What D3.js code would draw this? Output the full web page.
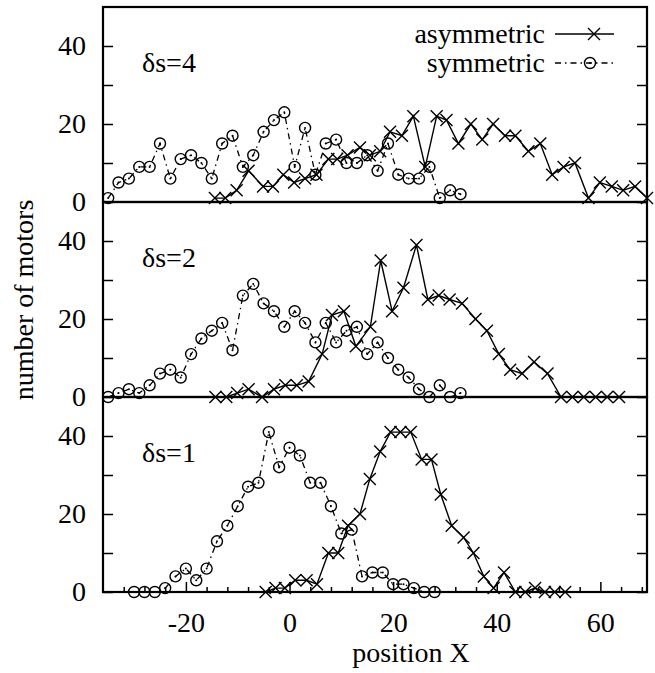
<!DOCTYPE html>
<html>
<head>
<meta charset="utf-8">
<script src="https://cdn.jsdelivr.net/npm/d3@7"></script>
<style>
  body { margin: 0; background: #fff; }
  svg text { font-family: "Liberation Serif", "DejaVu Serif", serif; fill: #000; }
</style>
</head>
<body>
<div id="chart"></div>
<script>
// axis ticks and names
let xTicks = [-20, 0, 20, 40, 60]
let yTicks = [0, 10, 20, 30, 40]
let yLabels = [0, 20, 40]
let panelNames = ['δs=4', 'δs=2', 'δs=1']
let seriesNames = ['asymmetric', 'symmetric']

// δs=4
let asymX4 = [-14.4, -12.4, -10.2, -7.9, -5.1, -3.2, -1.2, 0.9, 3.0, 5.2, 7.5, 9.2, 11.2, 13.6, 15.5, 17.5, 19.4, 21.7, 23.9, 26.2, 28.4, 30.3, 32.6, 35.0, 37.2, 39.3, 41.6, 43.6, 46.1, 48.4, 50.7, 52.9, 55.1, 57.7, 59.9, 62.2, 64.4, 66.7, 69.0]
let asymY4 = [1, 1, 3, 8, 4, 4, 7, 5, 6, 7, 11, 11, 12, 14, 12, 13, 18, 17, 22, 9, 22, 21, 15, 20, 16, 20, 17, 17, 13, 15, 7, 9, 10, 1, 5, 4, 3, 4, 1]
let symX4 = [-35, -33, -31, -29, -27, -25, -23, -21, -19, -17, -15, -13, -11, -9, -7, -5, -3, -1, 1, 3, 5, 7, 9, 11, 13, 15, 17, 19, 21, 23, 25, 27, 29, 31, 33]
let symY4 = [1, 5, 6, 9, 9, 15, 6, 11, 12, 10, 6, 15, 17, 9, 12, 18, 21, 23, 9, 19, 7, 15, 16, 10, 10, 12, 8, 15, 7, 6, 6, 9, 1, 3, 2]

// δs=2
let asymX2 = [-14.3, -12.2, -10.1, -7.9, -5.3, -3.0, -0.8, 1.4, 3.7, 6.3, 8.2, 10.5, 12.8, 15.6, 17.6, 19.8, 22.0, 24.5, 26.7, 28.8, 30.9, 33.3, 35.9, 38.1, 40.4, 42.6, 44.9, 47.2, 49.8, 52.4, 54.6, 56.8, 59.1, 61.3, 63.6]
let asymY2 = [0, 0, 1, 2, 0, 2, 3, 3, 4, 11, 21, 22, 13, 18, 35, 22, 28, 39, 25, 26, 25, 24, 20, 17, 11, 7, 6, 9, 6, 0, 0, 0, 0, 0, 0]
let symX2 = [-35, -33, -31, -29, -27, -25, -23, -21, -19, -17, -15, -13, -11, -9, -7, -5, -3, -1, 1, 3, 5, 7, 9, 11, 13, 15, 17, 19, 21, 23, 25, 27, 29, 31, 33]
let symY2 = [0, 1, 2, 1, 3, 6, 7, 5, 11, 15, 17, 19, 12, 26, 29, 24, 22, 18, 22, 19, 14, 19, 14, 17, 18, 11, 14, 10, 7, 5, 2, 0, 3, 0, 1]

// δs=1
let asymX1 = [-4.6, -2.7, -0.9, 1.1, 3.3, 5.3, 7.5, 9.4, 11.3, 13.6, 15.5, 17.5, 19.5, 21.4, 23.4, 25.5, 27.4, 29.2, 31.3, 33.6, 35.5, 37.5, 39.4, 41.4, 43.6, 45.5, 47.4, 49.3, 51.2, 53.2]
let asymY1 = [0, 1, 1, 3, 3, 2, 10, 10, 17, 20, 29, 36, 41, 41, 41, 34, 34, 25, 17, 14, 10, 4, 1, 5, 0, 0, 1, 0, 0, 0]
let symX1 = [-30, -28, -26, -24, -22, -20, -18, -16, -14, -12, -10, -8, -6, -4, -2, 0, 2, 4, 6, 8, 10, 12, 14, 16, 18, 20, 22, 24, 26, 28]
let symY1 = [0, 0, 0, 1, 4, 6, 3, 6, 13, 17, 22, 27, 28, 41, 32, 37, 35, 28, 28, 22, 15, 16, 4, 5, 5, 2, 2, 1, 0, 0]

let panels = [
  {name: panelNames[0], asym: d3.zip(asymX4, asymY4), sym: d3.zip(symX4, symY4)},
  {name: panelNames[1], asym: d3.zip(asymX2, asymY2), sym: d3.zip(symX2, symY2)},
  {name: panelNames[2], asym: d3.zip(asymX1, asymY1), sym: d3.zip(symX1, symY1)}
]

let crossPath = 'M-6,-6L6,6M-6,6L6,-6'
let dashDot = '6,4,1.5,4'

function drawCross(g, px, py){
  g.append('path').attr('d', crossPath)
    .attr('transform', `translate(${px},${py})`)
    .attr('fill', 'none').attr('stroke', '#000').attr('stroke-width', 1.4)
}

function drawCircle(g, px, py){
  g.append('circle').attr('cx', px).attr('cy', py).attr('r', 5.5)
    .attr('fill', 'none').attr('stroke', '#000').attr('stroke-width', 1.4)
  g.append('circle').attr('cx', px).attr('cy', py).attr('r', 1).attr('fill', '#000')
}

function styleAxis(a){
  a.select('.domain').remove()
  a.selectAll('line').attr('stroke', '#000').attr('stroke-width', 1.5)
  a.selectAll('text').attr('font-size', 28).attr('font-family', '"Liberation Serif", serif')
}

function makeChart(){
  let width = 655, height = 673
  let left = 103, right = 647, top = 7, panelH = 195

  let svg = d3.select('#chart').append('svg')
    .attr('width', width).attr('height', height)

  let x = d3.scaleLinear().domain([-36, 69]).range([left, right])

  panels.forEach((p, i) => {
    let y0 = top + i * panelH
    let y = d3.scaleLinear().domain([0, 50]).range([y0 + panelH, y0])
    let g = svg.append('g')

    // left and right axes, ticks pointing inward
    g.append('g').attr('transform', `translate(${left},0)`)
      .call(d3.axisLeft(y).tickValues(yTicks).tickSizeInner(-10).tickSizeOuter(0).tickPadding(17)
        .tickFormat(d => yLabels.includes(d) ? String(d) : ''))
      .call(styleAxis)
    g.append('g').attr('transform', `translate(${right},0)`)
      .call(d3.axisRight(y).tickValues(yTicks).tickSizeInner(-10).tickSizeOuter(0).tickFormat(''))
      .call(styleAxis)

    // symmetric: dash-dot with open circles
    g.append('path').datum(p.sym)
      .attr('d', d3.line().x(d => x(d[0])).y(d => y(d[1])))
      .attr('fill', 'none').attr('stroke', '#000').attr('stroke-width', 1.3)
      .attr('stroke-dasharray', dashDot)
    p.sym.forEach(d => drawCircle(g, x(d[0]), y(d[1])))

    // asymmetric: solid with crosses
    g.append('path').datum(p.asym)
      .attr('d', d3.line().x(d => x(d[0])).y(d => y(d[1])))
      .attr('fill', 'none').attr('stroke', '#000').attr('stroke-width', 1.4)
    p.asym.forEach(d => drawCross(g, x(d[0]), y(d[1])))

    // frame
    g.append('rect').attr('x', left).attr('y', y0)
      .attr('width', right - left).attr('height', panelH)
      .attr('fill', 'none').attr('stroke', '#000').attr('stroke-width', 2.2)

    g.append('text').attr('x', 142).attr('y', y0 + 65)
      .attr('font-size', 28).text(p.name)

    if (i == panels.length - 1){
      let base = y0 + panelH
      // plain hyphen for negatives, like the original
      svg.append('g').attr('transform', `translate(0,${base})`)
        .call(d3.axisBottom(x).tickValues(xTicks).tickSizeInner(-10).tickSizeOuter(0).tickPadding(20)
          .tickFormat(d => String(d)))
        .call(styleAxis)
      svg.append('g').attr('transform', `translate(0,${base})`)
        .call(d3.axisBottom(x).tickValues(d3.range(-32, 69, 4).filter(v => !xTicks.includes(v)))
          .tickSizeInner(-5).tickSizeOuter(0).tickFormat(''))
        .call(styleAxis)
    }
  })

  // legend
  let lg = svg.append('g')
  lg.append('text').attr('x', 545).attr('y', 43).attr('text-anchor', 'end')
    .attr('font-size', 28).text(seriesNames[0])
  lg.append('line').attr('x1', 555).attr('x2', 614).attr('y1', 34).attr('y2', 34)
    .attr('stroke', '#000').attr('stroke-width', 1.4)
  drawCross(lg, 594, 34)
  lg.append('text').attr('x', 545).attr('y', 72).attr('text-anchor', 'end')
    .attr('font-size', 28).text(seriesNames[1])
  lg.append('line').attr('x1', 555).attr('x2', 614).attr('y1', 63).attr('y2', 63)
    .attr('stroke', '#000').attr('stroke-width', 1.3).attr('stroke-dasharray', dashDot)
  drawCircle(lg, 590, 63)

  // axis titles
  svg.append('text').attr('transform', 'translate(33,300) rotate(-90)')
    .attr('text-anchor', 'middle').attr('font-size', 28).text('number of motors')
  svg.append('text').attr('x', 411).attr('y', 662)
    .attr('text-anchor', 'middle').attr('font-size', 28).text('position X')
}

makeChart()
</script>
</body>
</html>
